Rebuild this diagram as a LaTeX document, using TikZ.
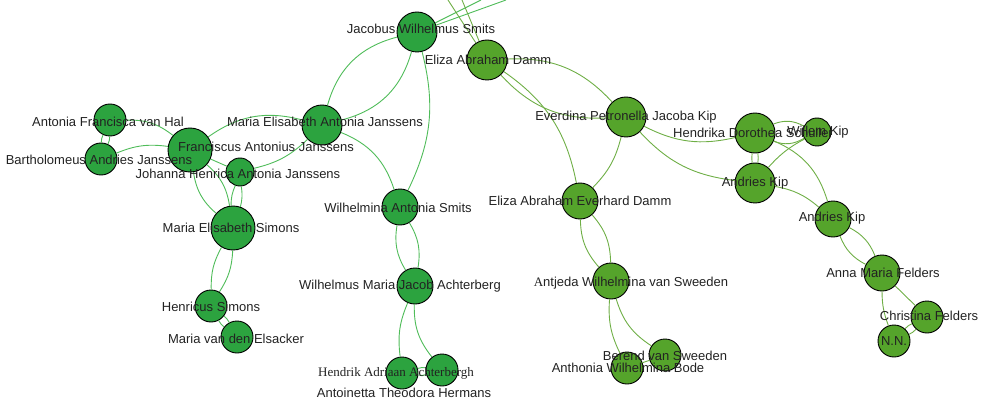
\documentclass[tikz,border=0pt]{standalone}
\usepackage{fontspec}
\setmainfont{Liberation Sans}
\newfontfamily\serifface{Liberation Serif}

\definecolor{leftGreen}{HTML}{2CA33F}
\definecolor{rightGreen}{HTML}{55A42B}
\definecolor{leftEdge}{HTML}{4FBC59}
\definecolor{rightEdge}{HTML}{6EAE45}
\definecolor{labelGray}{HTML}{222222}

\tikzset{
  person/.style = {circle, draw = black, line width = 0.9pt, inner sep = 0pt, minimum size = #1},
  leftFam/.style = {person = #1, fill = leftGreen},
  rightFam/.style = {person = #1, fill = rightGreen},
  leftTie/.style = {draw = leftEdge, line width = 0.9pt},
  rightTie/.style = {draw = rightEdge, line width = 0.9pt},
  nameTag/.style = {text = labelGray, inner sep = 0pt, text height = 9.3pt, text depth = 0pt,
                    font = \fontsize{13}{15}\selectfont}
}

\begin{document}
\begin{tikzpicture}[x = 1pt, y = 1pt]
        \useasboundingbox (0, 0) rectangle (981, -406);
        \clip (0, 0) rectangle (981, -406);

        % Janssens / Smits side
        \node[leftFam = 32] (antoniaNode) at (110, -120) {};
        \node[leftFam = 32] (bartholomeusNode) at (101, -159) {};
        \node[leftFam = 44] (franciscusNode) at (190, -150) {};
        \node[leftFam = 28] (johannaNode) at (240, -172) {};
        \node[leftFam = 40] (mariaEANode) at (322, -125) {};
        \node[leftFam = 44] (mariaESNode) at (233, -228) {};
        \node[leftFam = 32] (henricusNode) at (211, -306) {};
        \node[leftFam = 32] (mariaVdENode) at (237, -337) {};
        \node[leftFam = 40] (jacobusNode) at (417, -32) {};
        \node[leftFam = 36] (wilhelminaNode) at (400, -207) {};
        \node[leftFam = 36] (wilhelmusNode) at (415, -286) {};
        \node[leftFam = 32] (hendrikNode) at (402, -373) {};
        \node[leftFam = 32] (antoinettaNode) at (442, -370) {};

        % Damm / Kip side
        \node[rightFam = 40] (elizaDNode) at (487, -60) {};
        \node[rightFam = 40] (everdinaNode) at (626, -117) {};
        \node[rightFam = 40] (hendrikaNode) at (755, -133) {};
        \node[rightFam = 28] (willemNode) at (817, -132) {};
        \node[rightFam = 40] (andriesNode) at (755, -183) {};
        \node[rightFam = 36] (andriesBNode) at (833, -219) {};
        \node[rightFam = 36] (elizaENode) at (580, -201) {};
        \node[rightFam = 36] (antjedaNode) at (611, -281) {};
        \node[rightFam = 32] (berendNode) at (665, -355) {};
        \node[rightFam = 32] (anthoniaNode) at (627, -368) {};
        \node[rightFam = 36] (annaNode) at (882, -273) {};
        \node[rightFam = 32] (christinaNode) at (927, -317) {};
        \node[rightFam = 32] (nnNode) at (894, -341) {};

        \coordinate (jTopA) at (506, 0);
        \coordinate (jTopB) at (481, 0);
        \coordinate (eTopA) at (448, 0);
        \coordinate (eTopB) at (462, 0);

        \draw (antoniaNode) edge[leftTie, bend left = 12] (bartholomeusNode);
        \draw (antoniaNode) edge[leftTie, bend right = 12] (bartholomeusNode);
        \draw (antoniaNode) edge[leftTie, bend left = 20] (franciscusNode);
        \draw (bartholomeusNode) edge[leftTie, bend left = 15] (franciscusNode);
        \draw (franciscusNode) edge[leftTie, bend left = 25] (mariaEANode);
        \draw (franciscusNode) edge[leftTie] (johannaNode);
        \draw (franciscusNode) edge[leftTie, bend left = 20] (mariaESNode);
        \draw (franciscusNode) edge[leftTie, bend right = 20] (mariaESNode);
        \draw (johannaNode) edge[leftTie, bend left = 12] (mariaESNode);
        \draw (johannaNode) edge[leftTie, bend right = 12] (mariaESNode);
        \draw (johannaNode) edge[leftTie, bend right = 15] (mariaEANode);
        \draw (mariaESNode) edge[leftTie, bend left = 15] (henricusNode);
        \draw (mariaESNode) edge[leftTie, bend right = 15] (henricusNode);
        \draw (henricusNode) edge[leftTie, bend left = 12] (mariaVdENode);
        \draw (henricusNode) edge[leftTie, bend right = 12] (mariaVdENode);
        \draw (mariaEANode) edge[leftTie, bend left = 30] (jacobusNode);
        \draw (mariaEANode) edge[leftTie, bend right = 30] (jacobusNode);
        \draw (mariaEANode) edge[leftTie, bend left = 25] (wilhelminaNode);
        \draw (jacobusNode) edge[leftTie, bend left = 20] (wilhelminaNode);
        \draw (wilhelminaNode) edge[leftTie, bend left = 20] (wilhelmusNode);
        \draw (wilhelminaNode) edge[leftTie, bend right = 20] (wilhelmusNode);
        \draw (wilhelmusNode) edge[leftTie, bend right = 15] (hendrikNode);
        \draw (wilhelmusNode) edge[leftTie, bend right = 20] (antoinettaNode);
        \draw (hendrikNode) edge[leftTie, bend left = 12] (antoinettaNode);
        \draw (hendrikNode) edge[leftTie, bend right = 12] (antoinettaNode);
        \draw (jacobusNode) edge[leftTie] (jTopA);
        \draw (jacobusNode) edge[leftTie] (jTopB);

        \draw (elizaDNode) edge[rightTie] (eTopA);
        \draw (elizaDNode) edge[rightTie] (eTopB);
        \draw (elizaDNode) edge[rightTie, bend left = 25] (everdinaNode);
        \draw (elizaDNode) edge[rightTie, bend right = 25] (everdinaNode);
        \draw (elizaDNode) edge[rightTie, bend left = 22] (elizaENode);
        \draw (everdinaNode) edge[rightTie, bend left = 15] (elizaENode);
        \draw (everdinaNode) edge[rightTie, bend right = 20] (hendrikaNode);
        \draw (everdinaNode) edge[rightTie, bend right = 20] (andriesNode);
        \draw (hendrikaNode) edge[rightTie, bend left = 25] (willemNode);
        \draw (hendrikaNode) edge[rightTie, bend right = 25] (willemNode);
        \draw (hendrikaNode) edge[rightTie, bend left = 8] (andriesNode);
        \draw (hendrikaNode) edge[rightTie, bend right = 8] (andriesNode);
        \draw (andriesNode) edge[rightTie, bend left = 10] (willemNode);
        \draw (hendrikaNode) edge[rightTie, bend left = 25] (andriesBNode);
        \draw (andriesNode) edge[rightTie, bend left = 15] (andriesBNode);
        \draw (andriesBNode) edge[rightTie, bend left = 20] (annaNode);
        \draw (andriesBNode) edge[rightTie, bend right = 20] (annaNode);
        \draw (annaNode) edge[rightTie] (christinaNode);
        \draw (annaNode) edge[rightTie, bend right = 10] (nnNode);
        \draw (nnNode) edge[rightTie, bend left = 12] (christinaNode);
        \draw (nnNode) edge[rightTie, bend right = 12] (christinaNode);
        \draw (elizaENode) edge[rightTie, bend left = 20] (antjedaNode);
        \draw (elizaENode) edge[rightTie, bend right = 20] (antjedaNode);
        \draw (antjedaNode) edge[rightTie, bend right = 20] (berendNode);
        \draw (antjedaNode) edge[rightTie, bend right = 15] (anthoniaNode);
        \draw (berendNode) edge[rightTie] (anthoniaNode);

        \node[nameTag] (antoniaLabel) at (108, -122) {Antonia Francisca van Hal};
        \node[nameTag] (bartholomeusLabel) at (99, -160) {Bartholomeus Andries Janssens};
        \node[nameTag] (franciscusLabel) at (266, -147) {Franciscus Antonius Janssens};
        \node[nameTag] (johannaLabel) at (238, -174) {Johanna Henrica Antonia Janssens};
        \node[nameTag] (mariaEALabel) at (325, -122) {Maria Elisabeth Antonia Janssens};
        \node[nameTag] (mariaESLabel) at (231, -228) {Maria Elisabeth Simons};
        \node[nameTag] (henricusLabel) at (211, -307) {Henricus Simons};
        \node[nameTag] (mariaVdELabel) at (236, -339) {Maria van den Elsacker};
        \node[nameTag] (jacobusLabel) at (421, -29) {Jacobus Wilhelmus Smits};
        \node[nameTag] (wilhelminaLabel) at (398, -208) {Wilhelmina Antonia Smits};
        \node[nameTag] (wilhelmusLabel) at (400, -285) {Wilhelmus Maria Jacob Achterberg};
        \node[nameTag, font = \serifface\fontsize{13}{15}\selectfont] (hendrikLabel) at (396, -372) {Hendrik Adriaan Achterbergh};
        \node[nameTag] (antoinettaLabel) at (404, -393) {Antoinetta Theodora Hermans};

        \node[nameTag] (elizaDLabel) at (488, -60) {Eliza Abraham Damm};
        \node[nameTag] (everdinaLabel) at (626, -116) {Everdina Petronella Jacoba Kip};
        \node[nameTag] (hendrikaLabel) at (753, -133) {Hendrika Dorothea Schuller};
        \node[nameTag] (willemLabel) at (818, -131) {Willem Kip};
        \node[nameTag] (andriesLabel) at (755, -182) {Andries Kip};
        \node[nameTag] (andriesBLabel) at (832, -217) {Andries Kip};
        \node[nameTag] (elizaELabel) at (580, -201) {Eliza Abraham Everhard Damm};
        \node[nameTag] (antjedaLabel) at (631, -282) {{\serifface A}ntjeda Wilhelmina van Sweeden};
        \node[nameTag] (berendLabel) at (665, -356) {Berend van Sweeden};
        \node[nameTag] (anthoniaLabel) at (628, -368) {Anthonia Wilhelmina Bode};
        \node[nameTag] (annaLabel) at (883, -273) {Anna Maria Felders};
        \node[nameTag] (christinaLabel) at (929, -316) {Christina Felders};
        \node[nameTag] (nnLabel) at (894, -341) {N.N.};
\end{tikzpicture}
\end{document}
